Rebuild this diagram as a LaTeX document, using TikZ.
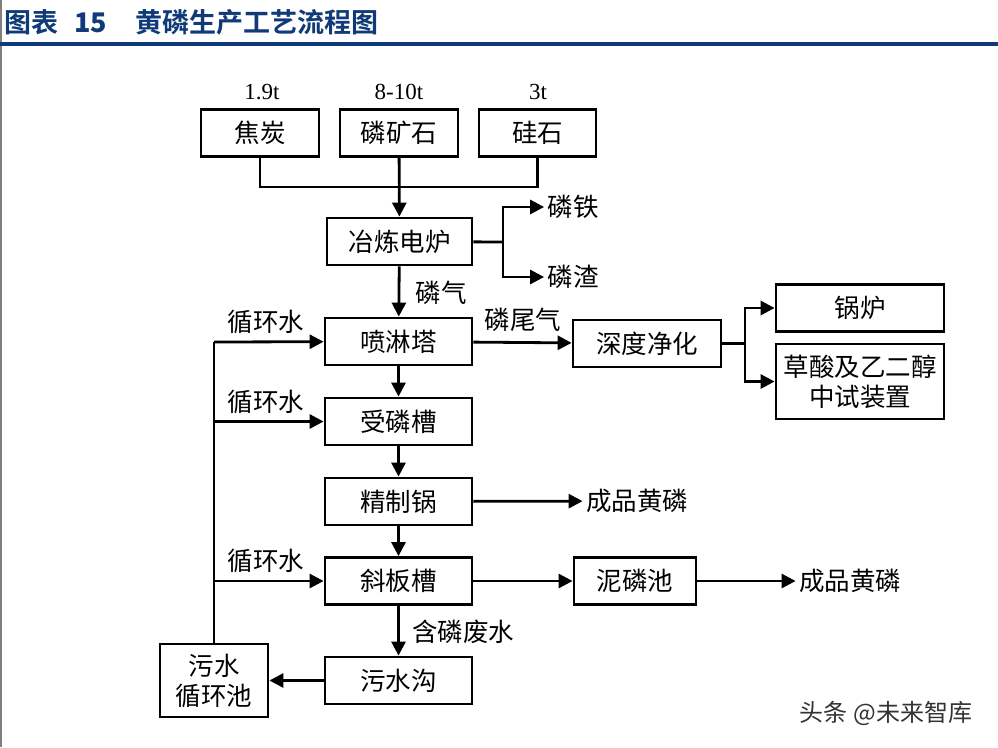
\documentclass[tikz,border=0pt]{standalone}
\usepackage{fontspec}
\setmainfont{Liberation Serif}
\newfontfamily\cjk{Noto Sans CJK SC}
\newfontfamily\cjkbold{Noto Sans CJK SC Bold}
\usepackage{tikz}
\usetikzlibrary{arrows.meta,positioning}

\definecolor{titleblue}{RGB}{16,58,120}
\newcommand\boxfont{\cjk\fontsize{25.5}{30}\selectfont}
\newcommand\numfont{\fontsize{23}{27}\selectfont}

\begin{document}
\begin{tikzpicture}[%
    x=1pt, y=-1pt,
    >={Triangle[length=14pt,width=14pt]},
    line width=2.8pt,
    box/.style={draw, inner sep=0pt, minimum height=47pt, align=center, font=\boxfont},
    lbl/.style={inner sep=2pt, font=\boxfont},
  ]
    \useasboundingbox (0,0) rectangle (998,747);

    % title bar
    \draw[gray, line width=1.5pt] (1,0) -- (1,747);
    \node[anchor=west, inner sep=0pt, text=titleblue,
          font=\cjkbold\fontsize{27}{31}\selectfont] (title) at (3,22)
          {图表\hspace{16pt}{\bfseries 15}\hspace{28pt}黄磷生产工艺流程图};
    \draw[titleblue, line width=3.2pt] (0,44) -- (998,44);

    % raw materials
    \node[box, minimum width=118pt] (coke)   at (260,133)   {焦炭};
    \node[box, minimum width=118pt] (ore)    at (399,133)   {磷矿石};
    \node[box, minimum width=117pt] (silica) at (537.5,133) {硅石};
    \node[font=\numfont] (cokeW)   at (262,92) {1.9t};
    \node[font=\numfont] (oreW)    at (399,92) {8-10t};
    \node[font=\numfont] (silicaW) at (538,92) {3t};

    % main line
    \node[box, minimum width=145pt] (furnace) at (399.5,241.5) {冶炼电炉};
    \node[box, minimum width=147pt] (tower)   at (398.5,341.5) {喷淋塔};
    \node[box, minimum width=147pt] (tank)    at (398.5,421.5) {受磷槽};
    \node[box, minimum width=147pt] (refine)  at (398.5,501.5) {精制锅};
    \node[box, minimum width=147pt] (incline) at (398.5,581)   {斜板槽};
    \node[box, minimum width=147pt] (ditch)   at (398.5,680.5) {污水沟};
    \node[box, minimum width=108pt, minimum height=73pt] (pool) at (214,680.5) {污水\\循环池};

    % side products
    \node[lbl] (ferro) at (573,207) {磷铁};
    \node[lbl] (slag)  at (573,277) {磷渣};
    \node[box, minimum width=148pt] (purify) at (647,343.5) {深度净化};
    \node[box, minimum width=168pt] (boiler) at (860,308)   {锅炉};
    \node[box, minimum width=168pt, minimum height=75pt] (trial) at (860,381.5)
          {草酸及乙二醇\\中试装置};
    \node[box, minimum width=122pt] (sludge) at (635,581) {泥磷池};
    \node[lbl] (yellowA) at (637,501) {成品黄磷};
    \node[lbl] (yellowB) at (850,581) {成品黄磷};

    % labels
    \node[lbl] (gasL)   at (441,293) {磷气};
    \node[lbl] (tailL)  at (523,320) {磷尾气};
    \node[lbl] (waterA) at (266,322) {循环水};
    \node[lbl] (waterB) at (266,402) {循环水};
    \node[lbl] (waterC) at (266,561) {循环水};
    \node[lbl] (wasteL) at (463,632) {含磷废水};
    \node[font=\cjk\fontsize{24}{28}\selectfont, text=black!80] (mark) at (886,713)
          {头条 @未来智库};

    \coordinate (feed)  at (399,187);
    \coordinate (fork1) at (503,242);
    \coordinate (fork2) at (745,343.5);
    \coordinate (riser) at (214,342);

    \draw (coke.south) |- (feed) -| (silica.south);
    \draw (furnace) -- (fork1);
    \draw (purify) -- (fork2);
    \draw (pool) -- (riser);

    \path[->] (ore)     edge (furnace)
              (furnace) edge (tower)
              (fork1)   edge [to path={|- (\tikztotarget)}] (ferro)
              (fork1)   edge [to path={|- (\tikztotarget)}] (slag)
              (tower)   edge (purify)
              (fork2)   edge [to path={|- (\tikztotarget)}] (boiler)
              (fork2)   edge [to path={|- (\tikztotarget)}] (trial)
              (riser)   edge (tower)
              (riser |- tank)    edge (tank)
              (riser |- incline) edge (incline)
              (tower)   edge (tank)
              (tank)    edge (refine)
              (refine)  edge (yellowA)
              (refine)  edge (incline)
              (incline) edge (sludge)
              (sludge)  edge (yellowB)
              (incline) edge (ditch)
              (ditch)   edge (pool)
              ;
  \end{tikzpicture}
\end{document}
